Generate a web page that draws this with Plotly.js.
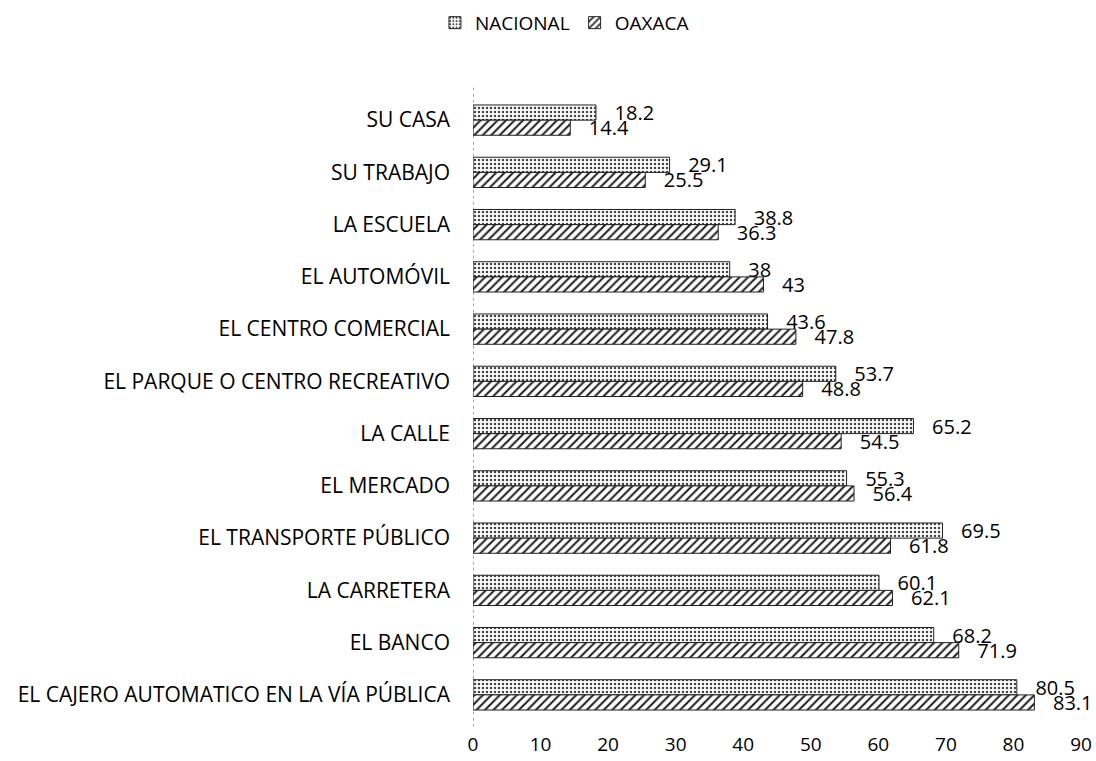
<!DOCTYPE html>
<html>
<head>
<meta charset="utf-8">
<script src="https://cdn.plot.ly/plotly-3.0.1.min.js"></script>
<style>html,body{margin:0;padding:0;background:#fff}#chart{width:1096px;height:761px}</style>
</head>
<body>
<div id="chart"></div>
<script>
const categories = ["SU CASA","SU TRABAJO","LA ESCUELA","EL AUTOMÓVIL","EL CENTRO COMERCIAL","EL PARQUE O CENTRO RECREATIVO","LA CALLE","EL MERCADO","EL TRANSPORTE PÚBLICO","LA CARRETERA","EL BANCO","EL CAJERO AUTOMATICO EN LA VÍA PÚBLICA"];
const nacional = [18.2,29.1,38.8,38,43.6,53.7,65.2,55.3,69.5,60.1,68.2,80.5];
const oaxaca = [14.4,25.5,36.3,43,47.8,48.8,54.5,56.4,61.8,62.1,71.9,83.1];
const tickVals = [0,10,20,30,40,50,60,70,80,90];

const font = "'Open Sans', sans-serif";
const pad = "\u00A0\u00A0\u00A0";
const traces = [
  {type:"bar", orientation:"h", name:"NACIONAL", y:categories, x:nacional,
   texttemplate:pad + "%{x}", textposition:"outside", cliponaxis:false, constraintext:"none",
   textfont:{size:20,color:"#000",family:font},
   marker:{color:"#fff", line:{color:"#222",width:1},
     pattern:{shape:".", fgcolor:"#444", bgcolor:"#fff", size:4, solidity:0.3}}},
  {type:"bar", orientation:"h", name:"OAXACA", y:categories, x:oaxaca,
   texttemplate:pad + "%{x}", textposition:"outside", cliponaxis:false, constraintext:"none",
   textfont:{size:20,color:"#000",family:font},
   marker:{color:"#fff", line:{color:"#222",width:1},
     pattern:{shape:"/", fgcolor:"#222", bgcolor:"#fff", size:6, solidity:0.35}}}
];
const layout = {
  width:1096, height:761,
  margin:{l:473, r:15, t:94, b:40},
  paper_bgcolor:"#fff", plot_bgcolor:"#fff",
  font:{family:font, size:19, color:"#000"},
  barmode:"group", bargap:0.42, bargroupgap:0,
  showlegend:true,
  legend:{orientation:"h", xref:"container", yref:"container", x:0.515, y:0.995, xanchor:"center", yanchor:"top", font:{size:19,color:"#000"}, itemwidth:30, tracegroupgap:0},
  xaxis:{range:[0,90], tickvals:tickVals, showgrid:false, zeroline:false, showline:false, ticks:"", ticklabelstandoff:10, tickfont:{size:19}},
  yaxis:{type:"category", autorange:"reversed", showgrid:false, zeroline:false, showline:false, ticks:"", ticklabelstandoff:22, tickfont:{size:21}},
  shapes:[{type:"line", xref:"x", yref:"paper", x0:0, x1:0, y0:1.01, y1:-0.01, line:{color:"#555", width:1, dash:"dot"}}]
};
Plotly.newPlot("chart", traces, layout, {displayModeBar:false});
</script>
</body>
</html>
